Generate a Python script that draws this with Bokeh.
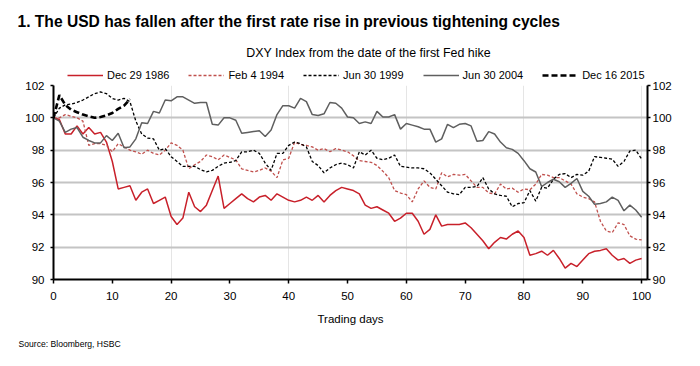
from bokeh.plotting import figure
from bokeh.layouts import column
from bokeh.models import (Range1d, LinearAxis, FixedTicker, Label, Legend,
                          LegendItem, Grid)
from bokeh.embed import file_html
from bokeh.resources import INLINE

# ---------------- data ----------------
days = list(range(101))

dec_1986 = [100.0, 99.9, 99.0, 99.0, 99.5, 99.0, 99.4, 99.0, 99.1, 98.5,
            97.3, 95.6, 95.7, 95.8, 94.9, 95.4, 95.6, 94.7, 94.9, 95.1,
            93.9, 93.4, 93.8, 95.4, 94.5, 94.2, 94.6, 95.5, 96.4, 94.4,
            94.7, 95.0, 95.3, 95.0, 94.8, 95.1, 95.2, 94.9, 95.3, 95.1,
            94.9, 94.8, 94.9, 95.1, 94.9, 95.2, 94.8, 95.2, 95.5, 95.7,
            95.6, 95.5, 95.3, 94.6, 94.4, 94.5, 94.3, 94.1, 93.6, 93.8,
            94.1, 94.1, 93.6, 92.8, 93.1, 94.0, 93.3, 93.4, 93.4, 93.4,
            93.5, 93.2, 92.8, 92.4, 91.9, 92.3, 92.6, 92.5, 92.8, 93.0,
            92.6, 91.5, 91.6, 91.75, 91.5, 91.8, 91.3, 90.7, 91.0, 90.8,
            91.2, 91.6, 91.75, 91.8, 91.9, 91.5, 91.2, 91.3, 91.0, 91.2,
            91.3]

feb_1994 = [100.0, 100.0, 100.2, 100.1, 100.0, 99.8, 98.3, 98.4, 98.4, 98.3,
            97.9, 98.4, 98.2, 98.0, 97.9, 97.75, 98.0, 97.8, 97.7, 98.0,
            98.45, 98.3, 98.0, 96.85, 97.1, 97.3, 97.7, 97.6, 97.4, 97.7,
            97.55, 97.4, 96.85, 96.75, 96.65, 96.75, 96.9, 96.7, 96.3, 97.4,
            97.5, 98.5, 98.35, 98.3, 98.2, 98.0, 98.1, 97.9, 98.1, 98.0,
            97.9, 97.65, 97.35, 97.3, 97.25, 97.05, 96.7, 96.3, 95.5, 95.35,
            95.25, 94.8, 95.6, 96.1, 95.7, 95.6, 96.6, 96.35, 96.5, 96.45,
            96.5, 96.1, 95.7, 95.7, 95.35, 95.3, 95.9, 95.6, 95.65, 95.4,
            95.6, 95.55, 95.9, 96.5, 96.45, 96.3, 96.3, 96.1, 95.9, 95.3,
            95.1, 95.0, 94.8, 93.6, 93.0, 92.9, 93.5, 93.4, 92.7, 92.5,
            92.45]

jun_1999 = [100.0, 100.6, 100.8, 100.85, 100.95, 101.1, 101.3, 101.5, 101.6, 101.5,
            101.2, 101.1, 101.2, 101.0, 99.8, 99.0, 98.75, 98.7, 98.0, 98.1,
            97.6, 97.3, 97.0, 97.0, 97.0, 96.8, 96.65, 96.75, 97.0, 97.2,
            97.25, 97.35, 97.9, 97.9, 98.0, 97.8, 97.2, 96.75, 97.8, 97.8,
            98.3, 98.5, 98.4, 98.2, 97.3, 97.05, 96.6, 96.9, 97.1, 97.2,
            97.1, 96.9, 97.9, 97.7, 98.0, 97.5, 97.4, 97.5, 97.7, 97.0,
            96.95, 96.9, 96.9, 96.85, 96.6, 96.2, 95.8, 95.4, 95.3, 95.25,
            95.7, 95.7, 95.75, 96.3, 95.6, 95.3, 95.2, 95.15, 94.5, 94.7,
            94.75, 95.5, 94.85, 95.7, 95.65, 96.2, 96.5, 96.55, 96.3, 96.5,
            96.45, 96.7, 97.6, 97.55, 97.5, 97.45, 97.0, 97.3, 97.95, 98.0,
            97.45]

jun_2004 = [100.0, 99.8, 99.1, 99.3, 99.4, 98.8, 98.6, 98.45, 98.45, 98.9,
            98.6, 99.05, 98.15, 98.2, 98.7, 99.7, 99.65, 100.4, 100.3, 101.1,
            101.05, 101.3, 101.3, 101.1, 100.9, 100.95, 100.95, 99.6, 99.55, 100.0,
            100.0, 99.85, 99.05, 99.1, 99.15, 99.2, 98.85, 99.25, 100.2, 100.75,
            100.75, 100.6, 101.2, 101.0, 100.2, 100.15, 100.25, 100.95, 100.9, 100.6,
            100.05, 100.0, 99.65, 99.75, 99.65, 100.4, 100.05, 100.05, 100.2, 99.3,
            99.65, 99.55, 99.45, 99.3, 99.3, 98.5, 98.7, 99.6, 99.4, 99.6,
            99.65, 99.5, 98.55, 98.6, 99.15, 99.0, 98.5, 98.15, 98.05, 97.8,
            97.35, 96.85, 96.65, 95.75, 96.0, 96.2, 96.05, 95.7, 95.95, 96.25,
            95.45, 95.15, 94.65, 94.7, 94.8, 95.1, 94.9, 94.25, 94.6, 94.3,
            93.85]

days_2015 = list(range(14))
dec_2015 = [100.0, 101.4, 100.8, 100.5, 100.35, 100.2, 100.1, 100.0, 100.05, 100.15,
            100.3, 100.55, 100.75, 101.15]

x_ticks = [0, 10, 20, 30, 40, 50, 60, 70, 80, 90, 100]
y_ticks = [90, 92, 94, 96, 98, 100, 102]

series_labels = ["Dec 29 1986", "Feb 4 1994", "Jun 30 1999", "Jun 30 2004", "Dec 16 2015"]
title_text = "1. The USD has fallen after the first rate rise in previous tightening cycles"
subtitle_text = "DXY Index from the date of the first Fed hike"
xlabel_text = "Trading days"
source_text = "Source: Bloomberg, HSBC"

# ---------------- styles ----------------
FONT = "Liberation Sans, Arial, sans-serif"
W = 684
series_styles = [
    dict(line_color="#C8202A", line_width=1.5),
    dict(line_color="#C0504D", line_width=1.3, line_dash="3 2"),
    dict(line_color="black", line_width=1.3, line_dash="3 2"),
    dict(line_color="#5F5F5F", line_width=1.5),
    dict(line_color="black", line_width=2.6, line_dash="6 3"),
]


def blank_fig(height):
    f = figure(width=W, height=height, output_backend="svg", toolbar_location=None,
               x_range=Range1d(0, W), y_range=Range1d(0, height),
               x_axis_location=None, y_axis_location=None,
               min_border=0, min_border_left=0, min_border_right=0,
               min_border_top=0, min_border_bottom=0, title=None)
    f.outline_line_color = None
    f.grid.visible = False
    f.background_fill_color = "white"
    f.border_fill_color = "white"
    f.frame_align = False
    return f


# ---------------- header (title, subtitle, legend) ----------------
HH = 81
header = blank_fig(HH)
header.add_layout(Label(x=17, y=60, text=title_text, text_font=FONT,
                        text_font_style="bold", text_font_size="15.6px",
                        text_baseline="middle", text_align="left", text_color="black"))
header.add_layout(Label(x=368, y=29, text=subtitle_text, text_font=FONT,
                        text_font_size="12.4px", text_baseline="middle",
                        text_align="center", text_color="black"))
items = []
for lab, st in zip(series_labels, series_styles):
    dummy = header.line(x=[float("nan")], y=[float("nan")], **st)
    items.append(LegendItem(label=lab, renderers=[dummy]))
legend = Legend(items=items, location=(67, 0), orientation="horizontal",
                padding=0, margin=0, spacing=19,
                border_line_alpha=0, background_fill_alpha=0,
                glyph_width=36, glyph_height=8, label_height=8,
                label_standoff=4, label_text_font=FONT,
                label_text_font_size="11px", label_text_color="black")
header.add_layout(legend, "center")

# ---------------- main chart ----------------
p = figure(width=W, height=4 + 194 + 28, output_backend="svg", toolbar_location=None,
           x_range=Range1d(0, 101), y_range=Range1d(90, 102),
           x_axis_location=None, y_axis_location=None, title=None,
           min_border_left=53, min_border_right=37,
           min_border_top=4, min_border_bottom=28)
p.outline_line_color = None
p.background_fill_color = "white"
p.border_fill_color = "white"
p.frame_align = False

p.add_layout(Grid(dimension=1, ticker=FixedTicker(ticks=y_ticks),
                  grid_line_color="#C4C4C4", grid_line_width=2))


def style_axis(ax, tick_out, standoff):
    ax.axis_line_color = "black"
    ax.axis_line_width = 2
    ax.major_tick_line_color = "black"
    ax.major_tick_line_width = 1.5
    ax.major_tick_in = 0
    ax.major_tick_out = tick_out
    ax.minor_tick_line_color = None
    ax.major_label_text_font = FONT
    ax.major_label_text_font_size = "11.5px"
    ax.major_label_text_color = "black"
    ax.major_label_standoff = standoff


xaxis = LinearAxis(ticker=FixedTicker(ticks=x_ticks))
style_axis(xaxis, 4, 8)
p.add_layout(xaxis, "below")

yleft = LinearAxis(ticker=FixedTicker(ticks=y_ticks))
style_axis(yleft, 3, 6)
p.add_layout(yleft, "left")

yright = LinearAxis(ticker=FixedTicker(ticks=y_ticks))
style_axis(yright, 3, 2)
p.add_layout(yright, "right")

for xs, ys, st in zip([days, days, days, days, days_2015],
                      [dec_1986, feb_1994, jun_1999, jun_2004, dec_2015],
                      series_styles):
    p.line(xs, ys, **st)

# ---------------- footer (axis title, source) ----------------
FH = 43
footer = blank_fig(FH)
footer.add_layout(Label(x=350, y=32, text=xlabel_text, text_font=FONT,
                        text_font_size="11.5px", text_baseline="middle",
                        text_align="center", text_color="black"))
footer.add_layout(Label(x=18, y=7, text=source_text, text_font=FONT,
                        text_font_size="8.6px", text_baseline="middle",
                        text_align="left", text_color="black"))

layout = column(header, p, footer, spacing=0)
open("out.html", "w").write(file_html(layout, INLINE))
